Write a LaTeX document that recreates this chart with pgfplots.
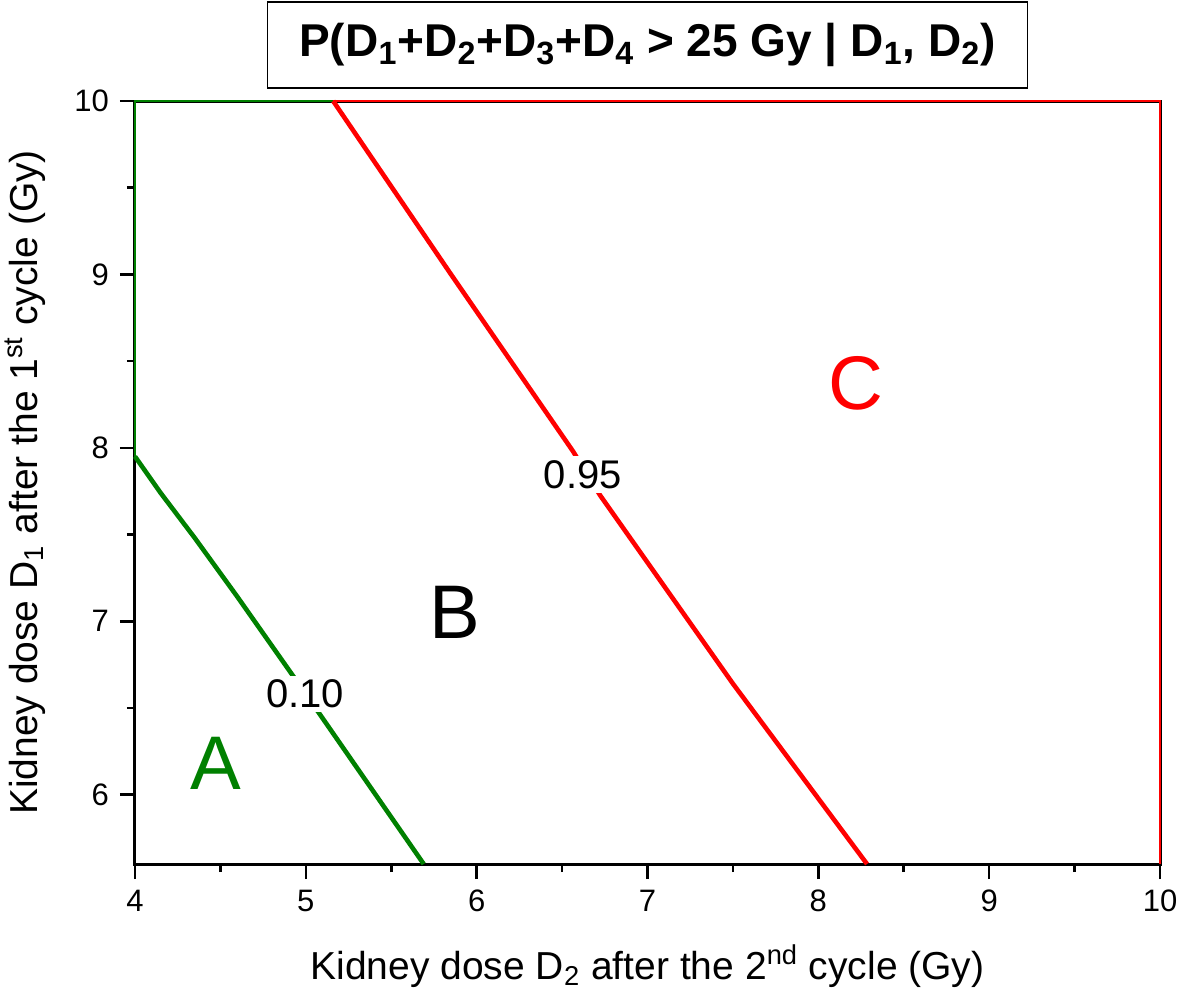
\documentclass[border=0pt]{standalone}
\usepackage{pgfplots}
\pgfplotsset{compat=1.18}
\usepackage{fontspec}
\setmainfont{Liberation Sans}
\definecolor{cgreen}{RGB}{0,128,0}
\definecolor{cred}{RGB}{255,0,0}
\begin{document}
\begin{tikzpicture}
\begin{axis}[
  scale only axis,
  width=512.5pt, height=381.5pt,
  xmin=4, xmax=10, ymin=5.6, ymax=10,
  xtick={4,5,...,10}, ytick={6,7,...,10},
  minor x tick num=1, minor y tick num=1,
  tick pos=left, tick align=outside,
  major tick length=7.5pt, minor tick length=4pt,
  every tick/.style={black, line width=1.3pt},
  axis line style={line width=1.5pt},
  /pgf/number format/assume math mode=true,
  ticklabel style={font=\fontsize{15.5}{18}\selectfont},
  xticklabel style={yshift=-2pt},
  yticklabel style={xshift=-2pt},
  xlabel={Kidney dose D\textsubscript{2} after the 2\textsuperscript{nd} cycle (Gy)},
  ylabel={Kidney dose D\textsubscript{1} after the 1\textsuperscript{st} cycle (Gy)},
  label style={font=\fontsize{19.5}{23}\selectfont},
  xlabel style={at={(axis description cs:0.5,0)}, anchor=center, yshift=-51pt},
  ylabel style={at={(axis description cs:0,0.5)}, anchor=center, yshift=55pt},
  clip=false,
]
% green contour (0.10)
\addplot[cgreen, line width=2.3pt] coordinates {
  (4,7.95) (4.15,7.74) (4.35,7.48) (4.60,7.14) (5.0,6.58) (5.69,5.6)
};
\addplot[cgreen, line width=0.9pt] coordinates {(4,7.95) (4,10) (5.16,10)};
% red contour (0.95)
\addplot[cred, line width=2.3pt] coordinates {
  (5.16,10) (5.85,9.0) (6.564,7.98) (6.722,7.727) (7.5,6.64) (8.285,5.6)
};
\addplot[cred, line width=0.9pt] coordinates {(5.16,10) (10,10) (10,5.6)};
% contour labels
\node[fill=white, inner sep=2pt, font=\fontsize{20}{24}\selectfont] at (axis cs:4.995,6.58) {0.10};
\node[fill=white, inner sep=2pt, font=\fontsize{20}{24}\selectfont] at (axis cs:6.622,7.847) {0.95};
% region letters
\node[cgreen, font=\fontsize{38}{42}\selectfont] at (axis cs:4.474,6.18) {A};
\node[black, font=\fontsize{38}{42}\selectfont] at (axis cs:5.873,7.05) {B};
\node[cred, font=\fontsize{38}{42}\selectfont] at (axis cs:8.22,8.37) {C};
% title
\node[draw=black, line width=0.7pt, minimum width=380pt, minimum height=43pt, inner sep=0pt,
      font=\bfseries\fontsize{23}{27}\selectfont]
  at (axis description cs:0.5,1.0734)
  {P(D\textsubscript{1}+D\textsubscript{2}+D\textsubscript{3}+D\textsubscript{4} > 25 Gy | D\textsubscript{1}, D\textsubscript{2})};
\end{axis}
\pgfresetboundingbox
\path[use as bounding box] (-67.5pt,-67pt) rectangle (523pt,432pt);
\end{tikzpicture}
\end{document}
